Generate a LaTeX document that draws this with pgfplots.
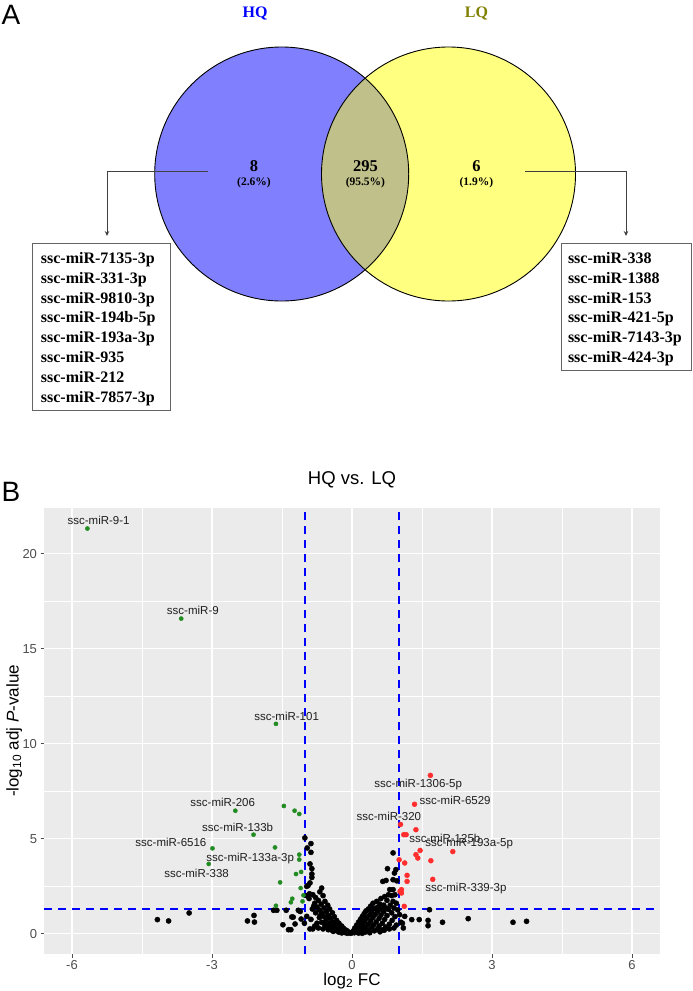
\documentclass[border=0pt]{standalone}
\usepackage{fontspec}
\setmainfont{Liberation Sans}
\newfontfamily\timesf{Liberation Serif}
\usepackage{pgfplots}
\usepackage{pgfplotstable}
\pgfplotsset{compat=1.18}
\usetikzlibrary{arrows.meta}
\definecolor{ggbg}{RGB}{235,235,235}
\definecolor{venblue}{RGB}{128,128,255}
\definecolor{venyel}{RGB}{255,255,128}
\definecolor{venmid}{RGB}{192,192,138}
\definecolor{lqcol}{RGB}{128,128,0}
\definecolor{ggreen}{RGB}{34,139,34}
\definecolor{gred}{RGB}{255,45,45}
\definecolor{gray30}{RGB}{77,77,77}
\definecolor{gray10}{RGB}{30,30,30}
\definecolor{boxgray}{RGB}{100,100,100}
\definecolor{dashblue}{RGB}{0,0,255}
\newcommand{\fs}[2]{\fontsize{#1bp}{#2bp}\selectfont}

\pgfplotstableread{
x y
-5.67 21.32
-3.66 16.58
-1.63 11.04
-2.50 6.47
-2.11 5.21
-2.99 4.49
-3.07 3.67
-1.13 4.16
-1.13 3.90
-1.46 6.72
-1.23 6.47
-1.13 6.30
-1.65 4.54
-1.20 3.14
-1.09 3.25
-1.54 2.70
-1.10 2.40
-1.04 2.02
-1.28 1.84
-1.31 1.65
-1.06 1.70
-1.63 1.47
}\greenpts

\pgfplotstableread{
x y
1.68 8.33
1.34 6.81
1.04 5.75
1.37 5.47
1.11 5.21
1.16 5.21
1.46 4.38
1.37 4.16
1.41 3.98
2.16 4.32
1.01 3.89
1.13 3.72
1.69 3.84
1.18 3.07
1.18 2.75
1.73 2.86
1.06 2.32
1.06 2.14
1.03 2.23
1.12 1.44
}\redpts

\pgfplotstableread{
x y
-4.17 0.74
-3.93 0.67
-3.49 1.09
-2.24 0.67
-2.10 0.96
-2.09 0.61
-1.68 1.23
-1.61 1.23
-1.41 1.23
-1.48 0.47
-1.31 0.21
-1.26 0.87
-1.22 0.51
-1.15 1.23
-1.09 0.77
-0.97 0.91
-0.90 0.25
-0.84 0.25
-1.29 0.88
-1.36 0.21
-1.11 1.17
-1.02 0.55
-1.01 5.04
-0.96 4.51
-0.88 4.74
-0.88 4.28
-0.90 3.67
-0.86 3.42
-0.86 3.14
-0.86 2.96
-0.90 2.67
-0.94 2.54
-0.97 2.49
-0.91 2.10
-0.97 2.00
-0.84 2.05
-0.65 2.40
-0.69 2.20
-0.62 2.00
-0.78 1.90
-0.92 1.85
-0.72 1.75
-0.58 1.70
-0.80 1.60
-0.66 1.55
-0.52 1.50
-0.82 1.45
-0.75 1.40
-0.60 1.35
-0.85 1.30
-0.70 1.25
-0.48 1.30
-0.55 1.15
-0.65 1.10
-0.78 1.10
-0.42 1.10
-0.50 0.95
-0.60 0.90
-0.68 0.95
-0.70 0.85
-0.38 0.90
-0.45 0.80
-0.55 0.75
-0.65 0.60
-0.57 0.62
-0.75 0.55
-0.33 0.70
-0.40 0.60
-0.50 0.55
-0.47 0.50
-0.58 0.45
-0.28 0.55
-0.35 0.45
-0.45 0.40
-0.52 0.30
-0.62 0.25
-0.22 0.40
-0.30 0.32
-0.35 0.35
-0.38 0.25
-0.45 0.20
-0.26 0.30
-0.18 0.28
-0.25 0.20
-0.32 0.15
-0.40 0.12
-0.15 0.15
-0.12 0.18
-0.20 0.12
-0.28 0.08
-0.08 0.10
-0.15 0.06
-0.22 0.04
-0.05 0.05
-0.10 0.02
-0.02 0.02
-0.88 0.75
-0.80 0.40
-0.72 0.30
-0.51 0.21
0.88 4.25
0.91 3.19
0.76 3.42
0.94 3.37
0.66 2.75
0.73 2.80
0.88 2.84
0.96 2.78
0.88 2.32
0.81 2.32
0.92 2.05
0.85 2.00
0.78 2.05
0.70 1.95
0.62 1.85
0.53 1.70
0.75 1.75
0.88 1.70
0.95 1.60
0.45 1.60
0.60 1.55
0.68 1.50
0.82 1.50
0.40 1.45
0.55 1.40
0.72 1.35
0.90 1.35
0.48 1.32
0.35 1.30
0.62 1.30
0.78 1.28
0.98 1.25
0.30 1.20
0.42 1.15
0.55 1.18
0.68 1.15
0.85 1.10
0.26 1.05
0.38 1.00
0.50 1.02
0.62 0.98
0.75 0.95
0.92 0.90
0.22 0.90
0.32 0.85
0.45 0.85
0.58 0.80
0.70 0.75
0.86 0.70
0.18 0.75
0.28 0.70
0.40 0.68
0.52 0.62
0.65 0.55
0.80 0.50
0.95 0.45
0.14 0.60
0.24 0.55
0.35 0.50
0.46 0.45
0.58 0.40
0.72 0.35
0.10 0.45
0.20 0.40
0.30 0.35
0.42 0.30
0.55 0.25
0.65 0.20
0.06 0.30
0.15 0.28
0.25 0.22
0.36 0.18
0.48 0.15
0.60 0.10
0.03 0.15
0.10 0.12
0.18 0.10
0.28 0.08
0.38 0.05
0.05 0.05
0.14 0.03
0.22 0.02
0.69 0.18
0.80 0.25
0.90 0.30
1.66 1.26
1.13 0.91
1.28 0.74
1.44 0.74
1.63 0.70
1.63 0.42
1.94 0.60
2.49 0.79
3.45 0.60
3.74 0.65
1.10 0.30
1.05 0.60
1.02 1.00
1.08 0.55
}\blackpts

\begin{document}
\begin{tikzpicture}
\useasboundingbox (0,0) rectangle (693bp,-991bp);

% ---------------- Panel A: Venn diagram ----------------
\begin{axis}[at={(0,0)}, anchor=north west, scale only axis,
  width=693bp, height=450bp, xmin=0, xmax=693, ymin=0, ymax=450,
  y dir=reverse, hide axis, clip=false]
\fill[venblue] (axis cs:281.7,174) circle[radius=127bp];
\fill[venyel] (axis cs:448.5,174) circle[radius=127bp];
\begin{scope}
\clip (axis cs:281.7,174) circle[radius=127bp];
\fill[venmid] (axis cs:448.5,174) circle[radius=127bp];
\end{scope}
\draw[line width=0.9bp] (axis cs:281.7,174) circle[radius=127bp];
\draw[line width=0.9bp] (axis cs:448.5,174) circle[radius=127bp];

\node[anchor=base, font=\timesf\bfseries\fs{16}{19}, text=blue] at (axis cs:255,17.5) {HQ};
\node[anchor=base, font=\timesf\bfseries\fs{16}{19}, text=lqcol] at (axis cs:476.4,17.5) {LQ};

\node[anchor=base, font=\timesf\bfseries\fs{16.5}{19}] at (axis cs:254,171.5) {8};
\node[anchor=base, font=\timesf\bfseries\fs{11.5}{13}] at (axis cs:254,185) {(2.6\%)};
\node[anchor=base, font=\timesf\bfseries\fs{16.5}{19}] at (axis cs:365.4,171.5) {295};
\node[anchor=base, font=\timesf\bfseries\fs{11.5}{13}] at (axis cs:365.4,185) {(95.5\%)};
\node[anchor=base, font=\timesf\bfseries\fs{16.5}{19}] at (axis cs:476.4,171.5) {6};
\node[anchor=base, font=\timesf\bfseries\fs{11.5}{13}] at (axis cs:476.4,185) {(1.9\%)};

\draw[line width=0.9bp, black!75, -{Stealth[length=5bp,width=4.5bp]}]
  (axis cs:208,171) -- (axis cs:107,171) -- (axis cs:107,236);
\draw[line width=0.9bp, black!75, -{Stealth[length=5bp,width=4.5bp]}]
  (axis cs:525,171) -- (axis cs:626,171) -- (axis cs:626,236);

\draw[boxgray, line width=1bp, fill=white] (axis cs:32.7,243.3) rectangle (axis cs:170.7,410);
\draw[boxgray, line width=1bp, fill=white] (axis cs:561,243.3) rectangle (axis cs:691.6,370.5);

\begin{scope}[every node/.style={anchor=base west, font=\timesf\bfseries\fs{16}{19}, inner sep=0pt}]
\node at (axis cs:40.7,263.5) {ssc-miR-7135-3p};
\node at (axis cs:40.7,283.3) {ssc-miR-331-3p};
\node at (axis cs:40.7,303.1) {ssc-miR-9810-3p};
\node at (axis cs:40.7,322.9) {ssc-miR-194b-5p};
\node at (axis cs:40.7,342.7) {ssc-miR-193a-3p};
\node at (axis cs:40.7,362.5) {ssc-miR-935};
\node at (axis cs:40.7,382.3) {ssc-miR-212};
\node at (axis cs:40.7,402.1) {ssc-miR-7857-3p};
\node at (axis cs:567.8,263.5) {ssc-miR-338};
\node at (axis cs:567.8,283.3) {ssc-miR-1388};
\node at (axis cs:567.8,303.1) {ssc-miR-153};
\node at (axis cs:567.8,322.9) {ssc-miR-421-5p};
\node at (axis cs:567.8,342.7) {ssc-miR-7143-3p};
\node at (axis cs:567.8,362.5) {ssc-miR-424-3p};
\end{scope}
\end{axis}

\node[font=\fs{28}{32}] at (11bp,-15bp) {A};

% ---------------- Panel B: volcano plot ----------------
\begin{axis}[at={(44bp,-954bp)}, anchor=south west, scale only axis,
  width=616bp, height=446bp,
  xmin=-6.6, xmax=6.6, ymin=-1.07, ymax=22.4,
  axis background/.style={fill=ggbg},
  axis line style={draw=none},
  xtick={-6,-3,0,3,6}, xticklabels={-6,-3,0,3,6},
  ytick={0,5,10,15,20}, yticklabels={0,5,10,15,20},
  minor xtick={-4.5,-1.5,1.5,4.5}, minor ytick={2.5,7.5,12.5,17.5},
  grid=both,
  major grid style={white, line width=1.1bp},
  minor grid style={white, line width=0.55bp},
  tick align=outside, tick pos=left,
  major tick length=3.5bp, minor tick length=0pt,
  tick style={gray30, line width=0.8bp},
  tick label style={font=\fs{13}{15}, text=gray30},
  xticklabel style={yshift=1bp},
  clip=false]
\addplot[only marks, mark=*, mark size=2.6bp, draw=black, fill=black] table {\blackpts};
\addplot[only marks, mark=*, mark size=2.1bp, draw=ggreen, fill=ggreen] table {\greenpts};
\addplot[only marks, mark=*, mark size=2.5bp, draw=gred, fill=gred] table {\redpts};
\addplot[no marks, dashblue, line width=2bp, dash pattern=on 8bp off 6bp, empty line=jump] table {
x y
-1 -1.07
-1 22.4

1 -1.07
1 22.4

-6.6 1.301
6.6 1.301
};

\begin{scope}[every node/.style={font=\fs{11.5}{13}, text=gray10, inner sep=0pt}]
\node at (axis cs:-5.43,21.74) {ssc-miR-9-1};
\node at (axis cs:-3.41,17.02) {ssc-miR-9};
\node at (axis cs:-1.40,11.46) {ssc-miR-101};
\node at (axis cs:-2.77,6.89) {ssc-miR-206};
\node at (axis cs:-2.45,5.61) {ssc-miR-133b};
\node at (axis cs:-3.88,4.83) {ssc-miR-6516};
\node at (axis cs:-2.18,3.98) {ssc-miR-133a-3p};
\node at (axis cs:-3.33,3.17) {ssc-miR-338};
\node at (axis cs:1.42,7.84) {ssc-miR-1306-5p};
\node at (axis cs:2.21,7.04) {ssc-miR-6529};
\node at (axis cs:0.79,6.17) {ssc-miR-320};
\node at (axis cs:1.99,5.00) {ssc-miR-125b};
\node at (axis cs:2.51,4.74) {ssc-miR-193a-5p};
\node at (axis cs:2.44,2.37) {ssc-miR-339-3p};
\end{scope}
\end{axis}

\node[font=\fs{28}{32}] at (11bp,-492bp) {B};
\node[anchor=base, font=\fs{18.5}{22}, text=black] at (352bp,-484.5bp) {HQ vs. LQ};
\node[anchor=base, font=\fs{17}{20}, text=black] at (352bp,-985bp) {log\textsubscript{2} FC};
\node[anchor=base, rotate=90, font=\fs{17}{20}, text=black] at (18.5bp,-731bp) {-log\textsubscript{10} adj \textit{P}-value};
\end{tikzpicture}
\end{document}
